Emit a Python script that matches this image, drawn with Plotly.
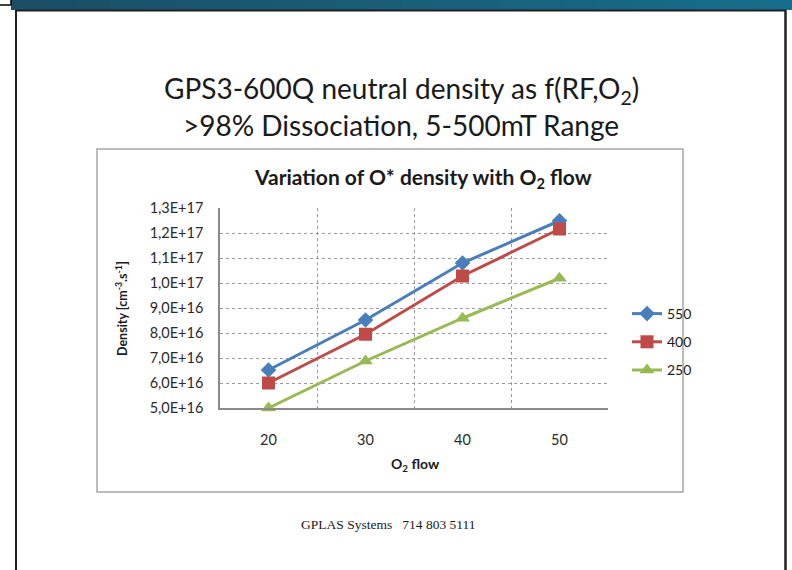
import plotly.graph_objects as go

# ---- data ----
o2_flow = ["20", "30", "40", "50"]
series_names = ["550", "400", "250"]
density_550 = [6.52e16, 8.52e16, 1.08e17, 1.249e17]
density_400 = [6.0e16, 7.95e16, 1.028e17, 1.216e17]
density_250 = [5.0e16, 6.88e16, 8.59e16, 1.019e17]
y_tick_values = [5e16, 6e16, 7e16, 8e16, 9e16, 1.0e17, 1.1e17, 1.2e17, 1.3e17]
y_tick_labels = ["5,0E+16", "6,0E+16", "7,0E+16", "8,0E+16", "9,0E+16",
                 "1,0E+17", "1,1E+17", "1,2E+17", "1,3E+17"]

W, H = 792, 570
PL, PR, PT, PB = 220, 608, 208, 408  # plot area in pixels


def px(x):
    return (x - PL) / (PR - PL)


def py(y):
    return (PB - y) / (PB - PT)


colors = ["#4A7EBB", "#BE4B48", "#98B954"]
symbols = ["diamond", "square", "triangle-up"]
msizes = [12, 13, 13]
values = [density_550, density_400, density_250]

fig = go.Figure()
for name, vals, c, s, ms in zip(series_names, values, colors, symbols, msizes):
    fig.add_trace(go.Scatter(
        x=o2_flow, y=vals, name=name, mode="lines+markers",
        line=dict(color=c, width=3),
        marker=dict(symbol=s, size=ms, color=c),
        legendgroup=name,
        cliponaxis=False,
    ))

shapes = []
# teal top band (gradient made from strips)
left_rgb = (0x1B, 0x4F, 0x66)
right_rgb = (0x17, 0x6E, 0x8C)
n = 24
x0b, x1b = 11, 792
for i in range(n):
    t = i / (n - 1)
    r = int(left_rgb[0] + (right_rgb[0] - left_rgb[0]) * t)
    g = int(left_rgb[1] + (right_rgb[1] - left_rgb[1]) * t)
    b = int(left_rgb[2] + (right_rgb[2] - left_rgb[2]) * t)
    xa = x0b + (x1b - x0b) * i / n
    xb = x0b + (x1b - x0b) * (i + 1) / n + 1
    shapes.append(dict(type="rect", xref="paper", yref="paper",
                       x0=px(xa), x1=px(xb), y0=py(10), y1=py(0),
                       fillcolor=f"rgb({r},{g},{b})", line=dict(width=0),
                       layer="below"))
# small corner at top-left
shapes.append(dict(type="line", xref="paper", yref="paper",
                   x0=px(0), x1=px(11), y0=py(5), y1=py(5),
                   line=dict(color="black", width=1.5)))
shapes.append(dict(type="line", xref="paper", yref="paper",
                   x0=px(11), x1=px(11), y0=py(5), y1=py(0),
                   line=dict(color="black", width=1.5)))
# slide frame
shapes.append(dict(type="line", xref="paper", yref="paper",
                   x0=px(16), x1=px(16), y0=py(10), y1=py(572),
                   line=dict(color="#202020", width=2)))
shapes.append(dict(type="line", xref="paper", yref="paper",
                   x0=px(16), x1=px(786), y0=py(10.5), y1=py(10.5),
                   line=dict(color="#202020", width=2)))
shapes.append(dict(type="line", xref="paper", yref="paper",
                   x0=px(785.5), x1=px(785.5), y0=py(10), y1=py(572),
                   line=dict(color="#202020", width=2.5)))
# chart box
shapes.append(dict(type="rect", xref="paper", yref="paper",
                   x0=px(97), x1=px(683), y0=py(492), y1=py(149),
                   line=dict(color="#A6A6A6", width=1.5), layer="below"))


def ann(text, x, y, size, family="Lato", angle=0):
    return dict(text=text, x=px(x), y=py(y), xref="paper", yref="paper",
                showarrow=False, xanchor="center", yanchor="middle",
                textangle=angle,
                font=dict(family=family, size=size, color="#1a1a1a"))


annotations = [
    ann("GPS3-600Q neutral density as f(RF,O<sub>2</sub>)", 401, 90, 28),
    ann("&gt;98% Dissociation, 5-500mT Range", 401, 125, 28),
    ann("<b>Variation of O* density with O<sub>2</sub> flow</b>", 423, 178, 21),
    ann("<b>O<sub>2</sub> flow</b>", 415, 464, 14),
    ann("<b>Density [cm<sup>-3</sup>.s<sup>-1</sup>]</b>", 121, 309, 12.5,
        angle=-90),
    ann("GPLAS Systems&nbsp;&nbsp;&nbsp;714 803 5111", 388, 524, 13.5,
        family="Liberation Serif"),
]

fig.update_layout(
    width=W, height=H,
    margin=dict(l=PL, r=W - PR, t=PT, b=H - PB, pad=0),
    paper_bgcolor="white", plot_bgcolor="white",
    showlegend=True,
    legend=dict(x=px(627), y=py(298), xanchor="left", yanchor="top",
                font=dict(family="Lato", size=14, color="#1a1a1a"),
                tracegroupgap=7, bgcolor="rgba(0,0,0,0)"),
    shapes=shapes, annotations=annotations,
    font=dict(family="Lato", color="#1a1a1a"),
)
fig.update_xaxes(
    type="category", range=[-0.5, 3.5], tickson="boundaries",
    showgrid=True, gridcolor="#9a9a9a", griddash="dot", gridwidth=1,
    showline=True, linecolor="#8a8a8a", linewidth=1.5,
    ticks="", ticklabelstandoff=18,
    tickfont=dict(family="Lato", size=14.5, color="#2a2a2a"),
    zeroline=False,
)
fig.update_yaxes(
    range=[5e16, 1.3e17], tickvals=y_tick_values, ticktext=y_tick_labels,
    showgrid=True, gridcolor="#9a9a9a", griddash="dot", gridwidth=1,
    showline=True, linecolor="#8a8a8a", linewidth=1.5,
    ticks="", ticklabelstandoff=12,
    tickfont=dict(family="Lato", size=14.5, color="#2a2a2a"),
    zeroline=False,
)

fig.write_html(
    "out.html",
    config={"displayModeBar": False},
    post_script="document.body.style.margin='0';"
                "document.body.style.overflow='hidden';",
)
